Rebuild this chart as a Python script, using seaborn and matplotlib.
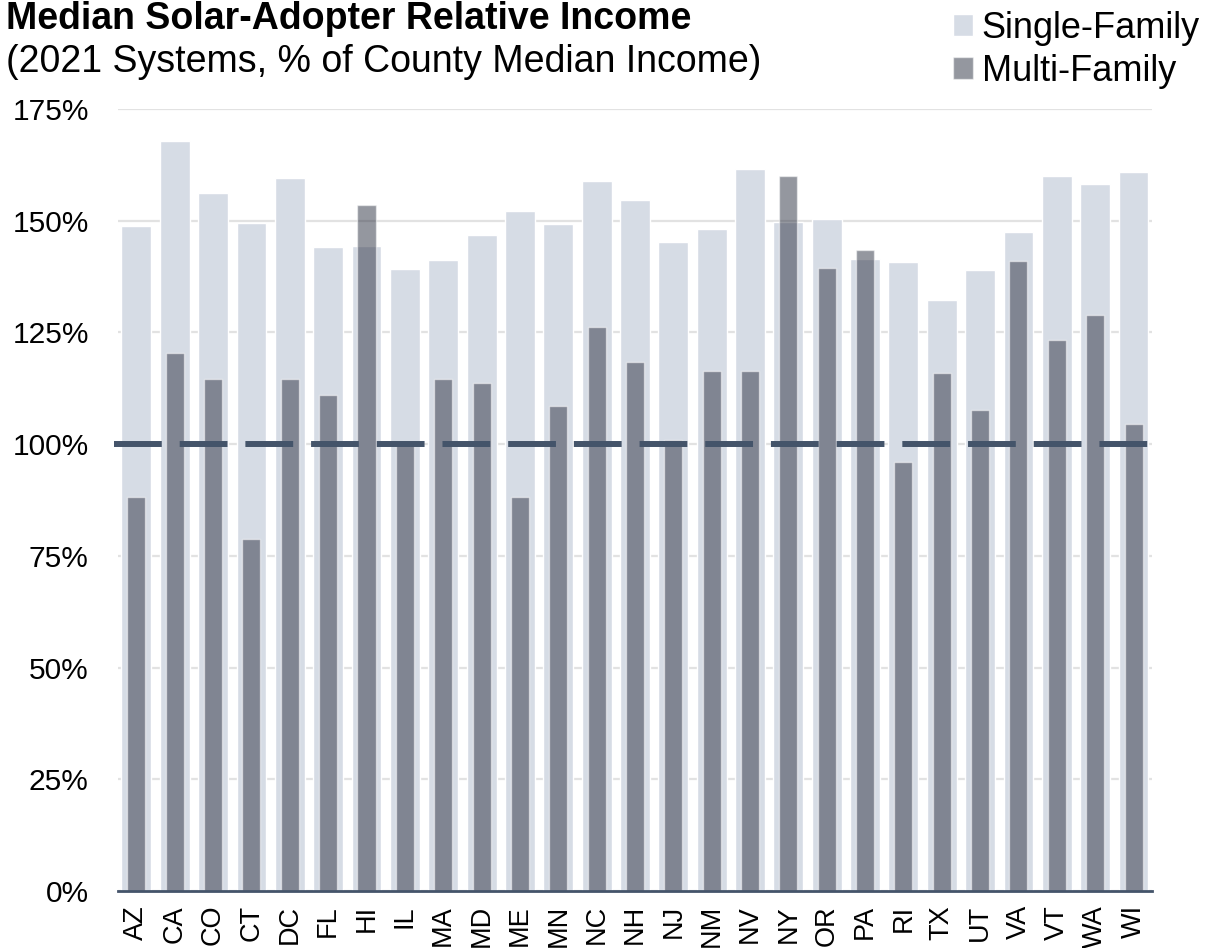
import matplotlib

matplotlib.use("Agg")

import matplotlib.pyplot as plt
import seaborn as sns
from matplotlib.patches import Patch
from matplotlib.ticker import PercentFormatter


states = ["AZ", "CA", "CO", "CT", "DC", "FL", "HI", "IL", "MA", "MD", "ME", "MN", "NC", "NH",
          "NJ", "NM", "NV", "NY", "OR", "PA", "RI", "TX", "UT", "VA", "VT", "WA", "WI"]
single_family = [148.9, 167.9, 156.1, 149.5, 159.5, 144.1, 144.3, 139.2, 141.2, 146.9, 152.1, 149.2, 159.0, 154.7,
                 145.2, 148.1, 161.5, 149.8, 150.4, 141.5, 140.7, 132.3, 138.9, 147.5, 160.1, 158.2, 161.0]
multi_family = [88.1, 120.3, 114.5, 78.7, 114.5, 111.1, 153.6, 100.4, 114.5, 113.7, 88.1, 108.5, 126.3, 118.3,
                101.0, 116.3, 116.3, 160.1, 139.5, 143.5, 95.9, 116.0, 107.6, 141.0, 123.4, 128.9, 104.5]
yticks = [0, 25, 50, 75, 100, 125, 150, 175]

LIGHT = "#d6dce5"
DARK = "#2b3040"
NAVY = "#44546a"

sns.set_style("white")
plt.rcParams["font.family"] = ["Liberation Sans", "DejaVu Sans"]
plt.rcParams["text.color"] = "black"
plt.rcParams["xtick.color"] = "black"
plt.rcParams["ytick.color"] = "black"

fig = plt.figure(figsize=(12.09, 9.48), dpi=100)
ax = fig.add_axes([0.0976, 0.0601, 0.8552, 0.8249])

sns.barplot(x=states, y=single_family, color=LIGHT, width=0.78, saturation=1, ax=ax, zorder=2)
sns.barplot(x=states, y=multi_family, color=DARK, width=0.47, saturation=1, alpha=0.5, ax=ax, zorder=3)

# 100% reference line, reaching a little past the left edge like the original
ax.plot([-0.58, 26.53], [100, 100], color=NAVY, lw=4.3, dashes=(8, 3), zorder=4,
        clip_on=False, solid_capstyle="butt", dash_capstyle="butt")

ax.set_ylim(0, 175)
ax.set_xlim(-0.48, 26.48)
ax.set_yticks(yticks)
ax.yaxis.set_major_formatter(PercentFormatter(decimals=0))
ax.grid(axis="y", color="#e2e2e2", lw=1.6, zorder=0)
ax.set_axisbelow(True)
for side in ["top", "right", "left"]:
    ax.spines[side].set_visible(False)
ax.spines["bottom"].set_color(NAVY)
ax.spines["bottom"].set_linewidth(2)
ax.spines["bottom"].set_zorder(5)
ax.tick_params(axis="y", length=0, labelsize=21.5, pad=21, labelcolor="black")
ax.tick_params(axis="x", length=0, labelsize=19.5, pad=10, labelrotation=90, labelcolor="black")
ax.set_xlabel("")
ax.set_ylabel("")

fig.text(0.005, 1 - 29 / 948, "Median Solar-Adopter Relative Income", fontsize=27, fontweight="bold",
         ha="left", va="baseline", color="black")
fig.text(0.005, 1 - 72 / 948, "(2021 Systems, % of County Median Income)", fontsize=27,
         ha="left", va="baseline", color="black")

handles = [Patch(facecolor=LIGHT, label="Single-Family"),
           Patch(facecolor=DARK, alpha=0.5, label="Multi-Family")]
fig.legend(handles=handles, loc="upper left", bbox_to_anchor=(953 / 1209, 1 - 11 / 948), frameon=False,
           fontsize=26, handlelength=0.55, handleheight=0.55, handletextpad=0.25, labelspacing=0.22,
           borderpad=0, borderaxespad=0, labelcolor="black")

fig.savefig("out.png", dpi=100)
